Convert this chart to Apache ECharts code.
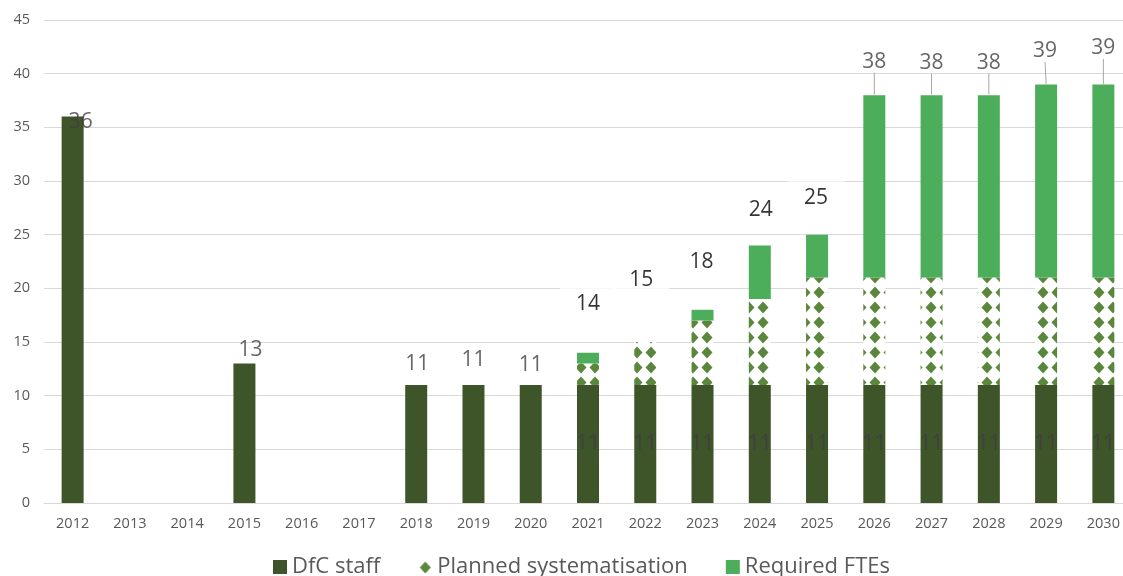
<!DOCTYPE html>
<html>
<head>
<meta charset="utf-8">
<script src="https://cdn.jsdelivr.net/npm/echarts@6/dist/echarts.min.js"></script>
<style>
  html, body { margin: 0; padding: 0; background: #fff; }
  #chart { width: 1123px; height: 576px; }
</style>
</head>
<body>
<div id="chart"></div>
<script>
// categories + values
const years = ['2012', '2013', '2014', '2015', '2016', '2017', '2018', '2019', '2020', '2021',
  '2022', '2023', '2024', '2025', '2026', '2027', '2028', '2029', '2030'];
const dfcStaff = [36, null, null, 13, null, null, 11, 11, 11, 11, 11, 11, 11, 11, 11, 11, 11, 11, 11];
const plannedSys = [null, null, null, null, null, null, null, null, null, 2, 4, 6, 8, 10, 10, 10, 10, 10, 10];
const requiredFte = [null, null, null, null, null, null, null, null, null, 1, 0, 1, 5, 4, 17, 17, 17, 18, 18];

// total on top of each stack (label only)
const totals = years.map((y, i) => {
  const parts = [dfcStaff[i], plannedSys[i], requiredFte[i]].filter(v => v != null);
  return parts.length ? parts.reduce((a, b) => a + b, 0) : null;
});

// where excel left the callouts (pixel nudge from the stack top)
const labelShift = [[8, 5], [0, 0], [0, 0], [6, -13], [0, 0], [0, 0], [1, -21], [0, -25], [0, -20],
  [0, -49], [-4, -62], [-1, -48], [1, -35], [-1, -37], [0, -33], [0, -32], [0, -32], [-1, -33], [0, -36]];
const boxedLabels = ['2021', '2022', '2023', '2024', '2025'];
const leaderLabels = ['2026', '2027', '2028', '2029', '2030'];

const FONT = '"Open Sans", sans-serif';

// diamond pattern for "Planned systematisation"
function makePattern() {
  const c = document.createElement('canvas');
  c.width = 14;
  c.height = 15;
  const ctx = c.getContext('2d');
  ctx.fillStyle = '#ffffff';
  ctx.fillRect(0, 0, 14, 15);
  ctx.fillStyle = '#5B873D';
  ctx.beginPath();
  ctx.moveTo(7, 1.5);
  ctx.lineTo(12.5, 7.5);
  ctx.lineTo(7, 13.5);
  ctx.lineTo(1.5, 7.5);
  ctx.closePath();
  ctx.fill();
  return c;
}

const chart = echarts.init(document.getElementById('chart'));

const totalData = totals.map((v, i) => {
  const item = { value: v };
  if (boxedLabels.includes(years[i])) {
    item.label = { color: '#000000', backgroundColor: '#ffffff', padding: [6, 16] };
  }
  if (leaderLabels.includes(years[i])) {
    item.labelLine = { show: true, lineStyle: { color: '#A6A6A6', width: 1 } };
  }
  return item;
});

const option = {
  animation: false,
  grid: { left: 44, width: 1088, top: 20, bottom: 73, containLabel: false, outerBoundsMode: 'none' },
  legend: {
    data: ['DfC staff', 'Planned systematisation', 'Required FTEs'],
    left: 268,
    top: 551,
    icon: 'rect',
    itemWidth: 14,
    itemHeight: 14,
    itemGap: 38,
    textStyle: { fontFamily: FONT, fontSize: 22, color: '#595959' }
  },
  xAxis: {
    type: 'category',
    data: years,
    axisLine: { lineStyle: { color: '#D9D9D9' } },
    axisTick: { show: false },
    axisLabel: { fontFamily: FONT, fontSize: 14.5, color: '#595959', margin: 13 }
  },
  yAxis: {
    type: 'value',
    min: 0,
    max: 45,
    interval: 5,
    axisLine: { show: false },
    axisTick: { show: false },
    splitLine: { lineStyle: { color: '#D9D9D9', width: 1 } },
    axisLabel: { fontFamily: FONT, fontSize: 14.5, color: '#595959', margin: 14 }
  },
  series: [
    {
      name: 'DfC staff',
      type: 'bar',
      stack: 'fte',
      barWidth: 22,
      data: dfcStaff,
      itemStyle: { color: '#3E5429' },
      label: {
        show: true,
        position: 'inside',
        fontFamily: FONT,
        fontSize: 21,
        color: '#404040',
        formatter: p => (p.dataIndex >= 9 ? p.value : '')
      }
    },
    {
      name: 'Planned systematisation',
      type: 'bar',
      stack: 'fte',
      barWidth: 22,
      data: plannedSys,
      itemStyle: { color: { image: makePattern(), repeat: 'repeat' } }
    },
    {
      name: 'Required FTEs',
      type: 'bar',
      stack: 'fte',
      barWidth: 22,
      data: requiredFte,
      itemStyle: { color: '#4CAD5B' }
    },
    {
      // totals drawn as callouts above the stacks
      name: 'total',
      type: 'scatter',
      symbolSize: 1,
      itemStyle: { color: 'rgba(0,0,0,0)' },
      data: totalData,
      z: 5,
      label: {
        show: true,
        position: 'inside',
        fontFamily: FONT,
        fontSize: 21,
        color: '#404040'
      },
      labelLine: { show: false },
      labelLayout: p => ({ dx: labelShift[p.dataIndex][0], dy: labelShift[p.dataIndex][1] })
    }
  ]
};

chart.setOption(option);
</script>
</body>
</html>
